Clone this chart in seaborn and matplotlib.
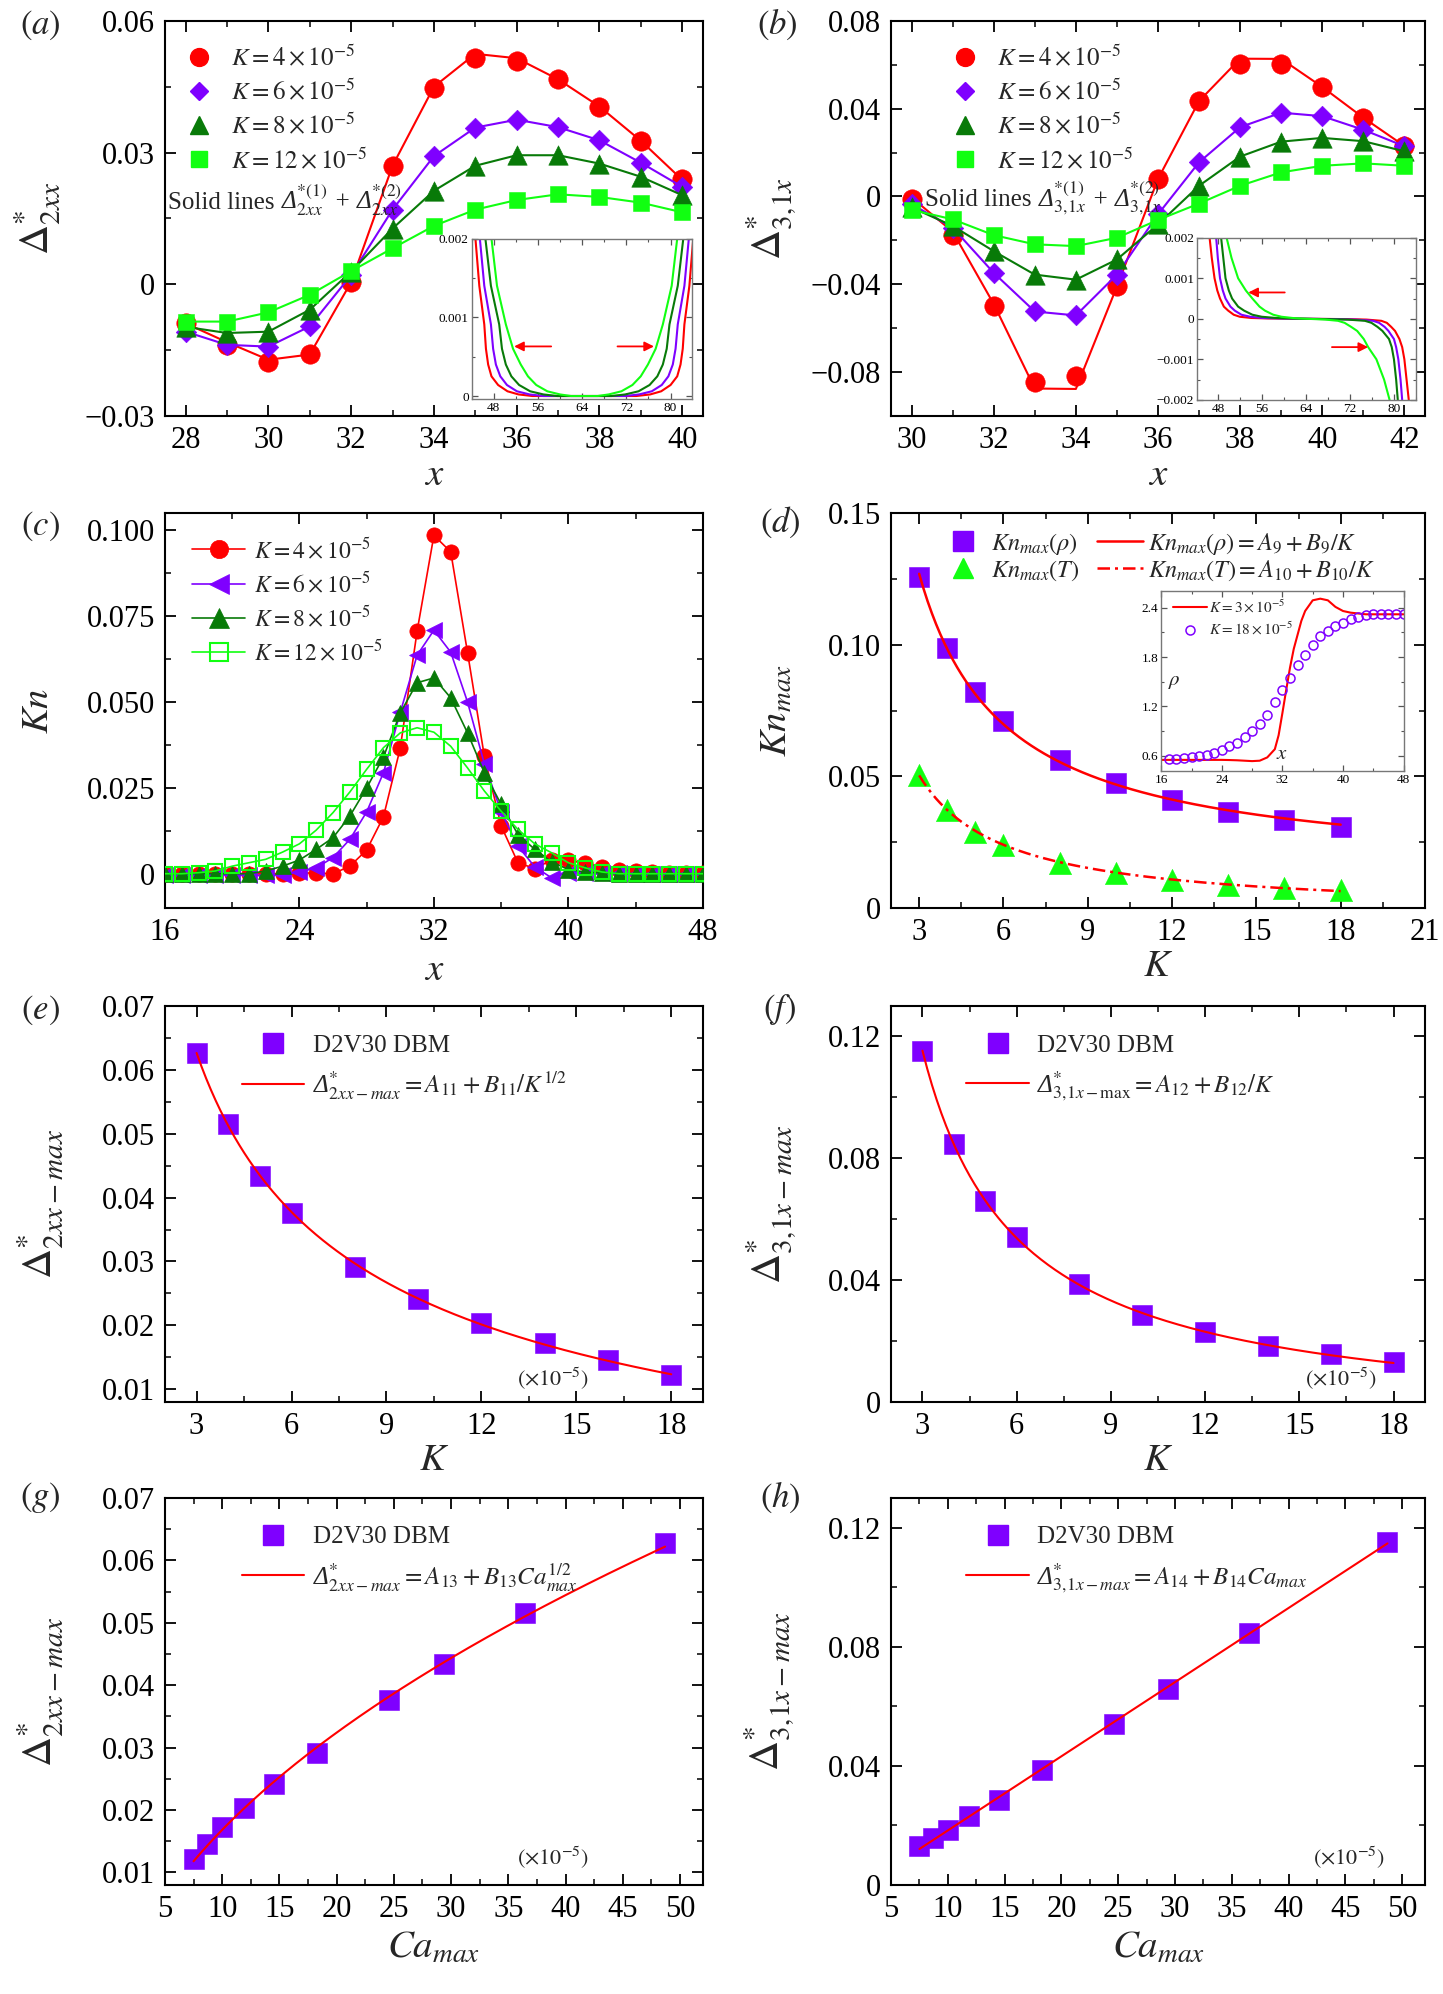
import numpy as np
import pandas as pd
import matplotlib
matplotlib.use("Agg")
import matplotlib.pyplot as plt
import seaborn as sns
from matplotlib.lines import Line2D
from matplotlib.ticker import MultipleLocator, FuncFormatter
from matplotlib.offsetbox import TextArea, HPacker, AnchoredOffsetbox

# ====================== DATA ======================
# (a) Delta*_2xx vs x
a_x = [28, 29, 30, 31, 32, 33, 34, 35, 36, 37, 38, 39, 40]
a_K4 = [-0.0088, -0.0138, -0.0176, -0.0158, 0.0006, 0.0269, 0.0448, 0.0515, 0.0508, 0.0467, 0.0405, 0.0327, 0.0241]
a_K4_line = [-0.0089, -0.0132, -0.0172, -0.0160, 0.0005, 0.0270, 0.0450, 0.0525, 0.0515, 0.0467, 0.0405, 0.0327, 0.0238]
a_K6 = [-0.0108, -0.0138, -0.0142, -0.0096, 0.0021, 0.0170, 0.0292, 0.0357, 0.0375, 0.0358, 0.0328, 0.0277, 0.0222]
a_K8 = [-0.0097, -0.0111, -0.0108, -0.0058, 0.0029, 0.0127, 0.0213, 0.0270, 0.0294, 0.0294, 0.0275, 0.0245, 0.0203]
a_K12 = [-0.0085, -0.0085, -0.0064, -0.0024, 0.0030, 0.0082, 0.0133, 0.0170, 0.0192, 0.0205, 0.0199, 0.0186, 0.0164]

# (a) inset curves
ai_y = [0.0020, 0.0014, 0.00091, 0.0006, 0.0004, 0.00025, 0.00014, 0.00006, 0.00002, 0.0,
        0.0, 0.00002, 0.00006, 0.00014, 0.00025, 0.0004, 0.0006, 0.00091, 0.0014, 0.0020]
ai_x_K4 = [44.7, 45.4, 46.3, 46.6, 47.0, 47.6, 48.8, 50.5, 52.5, 55.0,
           73.8, 76.3, 78.3, 80.0, 81.2, 81.8, 82.2, 82.5, 83.4, 84.1]
ai_x_K6 = [45.5, 46.3, 47.5, 47.9, 48.4, 49.2, 50.4, 52.2, 54.5, 57.0,
           71.8, 74.3, 76.6, 78.4, 79.6, 80.4, 80.9, 81.3, 82.5, 83.3]
ai_x_K8 = [46.5, 47.5, 49.0, 49.5, 50.2, 51.2, 52.6, 54.6, 57.0, 59.5,
           69.3, 71.8, 74.2, 76.2, 77.6, 78.6, 79.3, 79.8, 81.3, 82.3]
ai_x_K12 = [47.6, 48.6, 50.2, 51.5, 52.9, 54.2, 55.7, 57.7, 60.0, 62.0,
            66.8, 68.8, 71.1, 73.1, 74.6, 75.9, 77.3, 78.6, 80.2, 81.2]

# (b) Delta*_3,1x vs x
b_x = [30, 31, 32, 33, 34, 35, 36, 37, 38, 39, 40, 41, 42]
b_K4 = [-0.0012, -0.0176, -0.0500, -0.0844, -0.0817, -0.0409, 0.0082, 0.0435, 0.0602, 0.0606, 0.0499, 0.0359, 0.0232]
b_K4_line = [-0.0005, -0.0160, -0.0490, -0.0875, -0.0877, -0.0410, 0.0080, 0.0435, 0.0628, 0.0627, 0.0499, 0.0359, 0.0230]
b_K6 = [-0.0035, -0.0142, -0.0348, -0.0524, -0.0542, -0.0356, -0.0081, 0.0156, 0.0316, 0.0382, 0.0366, 0.0304, 0.0229]
b_K8 = [-0.0050, -0.0134, -0.0249, -0.0356, -0.0379, -0.0287, -0.0127, 0.0049, 0.0182, 0.0250, 0.0267, 0.0252, 0.0206]
b_K12 = [-0.0061, -0.0104, -0.0176, -0.0218, -0.0226, -0.0188, -0.0107, -0.0032, 0.0049, 0.0110, 0.0140, 0.0151, 0.0140]

# (b) inset curves
bi_y = [0.0020, 0.0015, 0.0010, 0.0007, 0.0005, 0.0003, 0.0002, 0.0001, 0.00005, 0.00002, 0.000008, 0.0,
        -0.000008, -0.00002, -0.00005, -0.0001, -0.0002, -0.0003, -0.0005, -0.0007, -0.0010, -0.0015, -0.0020]
bi_x_K4 = [46.4, 46.8, 47.3, 47.8, 48.3, 49.0, 49.8, 50.8, 51.9, 54.0, 57.0, 64.0,
           71.5, 75.0, 77.7, 78.7, 79.5, 80.2, 81.0, 81.5, 81.9, 82.3, 82.7]
bi_x_K6 = [47.6, 47.9, 48.3, 48.8, 49.3, 50.2, 51.0, 52.2, 53.8, 56.0, 59.0, 64.0,
           69.5, 73.0, 76.2, 77.3, 78.3, 79.0, 80.0, 80.4, 80.8, 81.2, 81.5]
bi_x_K8 = [48.5, 48.9, 49.3, 49.9, 50.5, 51.6, 52.7, 54.2, 55.9, 58.5, 61.0, 64.0,
           67.5, 71.5, 74.7, 75.9, 77.0, 77.9, 79.1, 79.6, 80.0, 80.4, 80.7]
bi_x_K12 = [49.5, 50.4, 51.6, 53.0, 54.2, 55.5, 56.5, 58.0, 59.5, 61.5, 62.8, 64.0,
            65.5, 67.5, 69.8, 71.0, 72.2, 73.3, 74.5, 75.3, 76.8, 78.2, 79.2]

# (c) Kn vs x
c_x = list(range(16, 49))
c_K4 = [0, 0, 0, 0, 0, 0, 0, 0, 0.0002, 0.0002, 0.0, 0.0022, 0.0069, 0.0166, 0.0366, 0.0706, 0.0985,
        0.0937, 0.0644, 0.0342, 0.0139, 0.0032, 0.0015, 0.0040, 0.0039, 0.0030, 0.0020, 0.0012, 0.0008,
        0.0005, 0.0003, 0.0002, 0.0001]
c_K6 = [-0.0003, -0.0003, -0.0003, -0.0003, -0.0003, -0.0005, -0.0005, -0.0003, 0.0005, 0.0017, 0.0047,
        0.0100, 0.0180, 0.0294, 0.0470, 0.0636, 0.0709, 0.0645, 0.0500, 0.0320, 0.0180, 0.0080, 0.0020,
        -0.0012, 0.0003, 0.0003, 0.0002, 0.0001, 0.0, 0.0, 0.0, 0.0, -0.0002]
c_K8 = [0, 0, 0, 0, 0, 0, 0.0008, 0.0022, 0.0040, 0.0071, 0.0105, 0.0168, 0.0250, 0.0340, 0.0468, 0.0556,
        0.0570, 0.0512, 0.0410, 0.0294, 0.0202, 0.0114, 0.0071, 0.0035, 0.0012, 0.0005, 0.0002,
        0, 0, 0, 0, 0, 0]
c_K12 = [0, 0, 0.0003, 0.0008, 0.0022, 0.0032, 0.0042, 0.0063, 0.0087, 0.0127, 0.0178, 0.0238, 0.0304,
         0.0367, 0.0410, 0.0425, 0.0412, 0.0371, 0.0308, 0.0241, 0.0182, 0.0129, 0.0087, 0.0061, 0.0032,
         0.0017, 0.0005, 0, 0, 0, 0, 0, 0]

# (d) Kn_max vs K
K_vals = [3, 4, 5, 6, 8, 10, 12, 14, 16, 18]
d_rho = [0.1256, 0.0987, 0.0820, 0.0709, 0.0563, 0.0475, 0.0411, 0.0365, 0.0333, 0.0308]
d_T = [0.0506, 0.0373, 0.0290, 0.0240, 0.0171, 0.0133, 0.0108, 0.0089, 0.0076, 0.0070]

# (d) inset: density profiles
di_x_K3 = [16, 17, 18, 19, 20, 21, 22, 23, 24, 25, 26, 27, 28, 29, 30, 31, 31.5, 32, 32.5, 33, 33.5,
           34, 34.5, 35, 36, 37, 38, 39, 40, 41, 42, 43, 44, 45, 46, 47, 48]
di_rho_K3 = [0.55, 0.55, 0.55, 0.55, 0.55, 0.55, 0.55, 0.55, 0.55, 0.548, 0.545, 0.54, 0.535, 0.54, 0.58,
             0.68, 0.85, 1.12, 1.40, 1.67, 1.90, 2.07, 2.24, 2.36, 2.49, 2.51, 2.49, 2.41, 2.36, 2.34,
             2.33, 2.32, 2.32, 2.32, 2.32, 2.32, 2.32]
di_x_K18 = list(range(17, 49))
di_rho_K18 = [0.559, 0.559, 0.571, 0.584, 0.592, 0.612, 0.632, 0.673, 0.714, 0.754, 0.827, 0.897, 0.99,
              1.10, 1.254, 1.396, 1.547, 1.70, 1.83, 1.945, 2.055, 2.116, 2.176, 2.217, 2.258, 2.286,
              2.307, 2.32, 2.32, 2.32, 2.32, 2.32]

# (e)-(h)
e_D2 = [0.0627, 0.0515, 0.0434, 0.0376, 0.0292, 0.0241, 0.0204, 0.0172, 0.0146, 0.0122]
f_D3 = [0.1153, 0.0847, 0.0659, 0.0541, 0.0386, 0.0286, 0.0230, 0.0184, 0.0156, 0.0131]
Ca_max = [48.7, 36.5, 29.4, 24.6, 18.3, 14.5, 11.9, 10.0, 8.7, 7.5]

k_labels = [r'$K=4\times10^{-5}$', r'$K=6\times10^{-5}$', r'$K=8\times10^{-5}$', r'$K=12\times10^{-5}$']

# ====================== STYLE ======================
sns.set_theme(style="ticks")
plt.rcParams['font.family'] = ['Liberation Serif', 'DejaVu Serif']
plt.rcParams['mathtext.fontset'] = 'stix'
plt.rcParams['axes.unicode_minus'] = True

RED = '#FF0000'
PURPLE = '#7F00FF'
DKGREEN = '#087A08'
LTGREEN = '#11FF11'
TICK = 22

fig = plt.figure(figsize=(14.43, 19.94), dpi=100)

LX, RX = 0.1143, 0.6175
LW_, RW_ = 0.3728, 0.370
rows = [(0.7914, 0.1981), (0.5446, 0.1981), (0.2969, 0.1986), (0.0547, 0.1941)]


def mk_ax(col, row):
    b, h = rows[row]
    if col == 0:
        return fig.add_axes([LX, b, LW_, h])
    return fig.add_axes([RX, b, RW_, h])


def uminus(s):
    return s.replace('-', '\u2212')


def fmt_factory(dec, zero='0'):
    def f(v, p):
        if abs(v) < 1e-12:
            return zero
        return uminus(f'{v:.{dec}f}')
    return f


def fmt_int(v, p):
    return uminus(f'{v:.0f}')


def style_axes(ax, xmaj, xmin, ymaj, ymin, yfmt):
    ax.xaxis.set_major_locator(MultipleLocator(xmaj))
    ax.xaxis.set_minor_locator(MultipleLocator(xmin))
    ax.yaxis.set_major_locator(MultipleLocator(ymaj))
    ax.yaxis.set_minor_locator(MultipleLocator(ymin))
    ax.yaxis.set_major_formatter(FuncFormatter(yfmt))
    ax.xaxis.set_major_formatter(FuncFormatter(fmt_int))
    ax.tick_params(which='both', direction='in', top=True, right=True, colors='black')
    ax.tick_params(which='major', length=8, width=1.3, labelsize=TICK, pad=7)
    ax.tick_params(which='minor', length=4.5, width=1.1)
    for s in ax.spines.values():
        s.set_linewidth(1.5)
        s.set_color('black')
    ax.grid(False)
    ax.set_facecolor('white')


def style_inset(ax, xmaj, xmin, ymaj, ymin, yfmt):
    ax.xaxis.set_major_locator(MultipleLocator(xmaj))
    ax.xaxis.set_minor_locator(MultipleLocator(xmin))
    ax.yaxis.set_major_locator(MultipleLocator(ymaj))
    ax.yaxis.set_minor_locator(MultipleLocator(ymin))
    ax.yaxis.set_major_formatter(FuncFormatter(yfmt))
    ax.xaxis.set_major_formatter(FuncFormatter(fmt_int))
    ax.tick_params(which='both', direction='in', top=True, right=True, color='#555555',
                   labelcolor='black')
    ax.tick_params(which='major', length=4, width=0.9, labelsize=9.5, pad=2)
    ax.tick_params(which='minor', length=2.2, width=0.8)
    for s in ax.spines.values():
        s.set_linewidth(1.0)
        s.set_color('#777777')
    ax.grid(False)
    ax.set_facecolor('white')
    ax.set_xlabel('')
    ax.set_ylabel('')


def scat(ax, x, y, marker, size, color, z=3, **kw):
    sns.scatterplot(x=x, y=y, marker=marker, s=size ** 2, color=color, edgecolor=color,
                    linewidth=0.4, ax=ax, legend=False, zorder=z, **kw)


def line(ax, x, y, color, lw=1.5, z=2, **kw):
    sns.lineplot(x=x, y=y, color=color, lw=lw, ax=ax, legend=False, errorbar=None,
                 sort=False, estimator=None, zorder=z, **kw)


def fit_curve(xd, yd, basis, xs):
    xd = np.asarray(xd, float)
    A = np.column_stack([np.ones(len(xd)), basis(xd)])
    coef, *_ = np.linalg.lstsq(A, np.asarray(yd, float), rcond=None)
    return coef[0] + coef[1] * basis(xs)


def set_labels(ax, xl, yl, ylx, xly, xfs=28, yfs=30):
    ax.set_xlabel(xl, fontsize=xfs)
    ax.set_ylabel(yl, fontsize=yfs)
    ax.yaxis.set_label_coords(ylx, 0.5)
    ax.xaxis.set_label_coords(0.5, xly)


def solid_lines_text(ax, x, y, sub):
    t1 = TextArea('Solid lines ', textprops=dict(fontsize=18))
    t2 = TextArea('\u0394' + r'$^{*(1)}_{%s}$' % sub + ' + ' + '\u0394' + r'$^{*(2)}_{%s}$' % sub,
                  textprops=dict(fontsize=18, style='italic'))
    box = HPacker(children=[t1, t2], align='baseline', pad=0, sep=0)
    anch = AnchoredOffsetbox(loc='center left', child=box, pad=0, borderpad=0, frameon=False,
                             bbox_to_anchor=(x, y), bbox_transform=ax.transAxes)
    anch.set_zorder(10)
    ax.add_artist(anch)


def fit_legend(ax, label, x0, y0):
    he = [Line2D([], [], ls='none', marker='s', ms=15, color=PURPLE), Line2D([], [], color=RED, lw=1.5)]
    leg = ax.legend(he, ['D2V30 DBM', label], loc='upper left', bbox_to_anchor=(x0, y0),
                    frameon=False, fontsize=18, handlelength=2.5, handletextpad=0.34,
                    labelspacing=0.5, borderaxespad=0, borderpad=0)
    leg.get_texts()[1].set_fontstyle('italic')
    return leg


MS_O, MS_D, MS_T, MS_S = 14, 10.5, 14, 12

# ====================== (a) ======================
ax = mk_ax(0, 0)
series_a = [(RED, 'o', MS_O), (PURPLE, 'D', MS_D), (DKGREEN, '^', MS_T), (LTGREEN, 's', MS_S)]
line(ax, a_x, a_K4_line, RED)
scat(ax, a_x, a_K4, 'o', MS_O, RED)
line(ax, a_x, a_K6, PURPLE, z=4)
scat(ax, a_x, a_K6, 'D', MS_D, PURPLE, z=5)
line(ax, a_x, a_K8, DKGREEN, z=6)
scat(ax, a_x, a_K8, '^', MS_T, DKGREEN, z=7)
line(ax, a_x, a_K12, LTGREEN, z=8)
scat(ax, a_x, a_K12, 's', MS_S, LTGREEN, z=9)
ax.set_xlim(27.5, 40.5)
ax.set_ylim(-0.03, 0.06)
style_axes(ax, 2, 1, 0.03, 0.015, fmt_factory(2))
set_labels(ax, r'$x$', r'$\Delta^{*}_{2xx}$', -0.19, -0.105)
hs = [Line2D([], [], ls='none', marker=m, ms=s * 0.92, color=c, mec=c) for (c, m, s) in series_a]
ax.legend(hs, k_labels, loc='upper left', bbox_to_anchor=(0.036, 0.94), frameon=False,
          fontsize=18, handlelength=1.2, handletextpad=0.68, labelspacing=0.34,
          borderaxespad=0, borderpad=0)
solid_lines_text(ax, 0.006, 0.546, '2xx')

ins = ax.inset_axes([0.570, 0.042, 0.409, 0.407])
line(ins, ai_x_K4, ai_y, RED, lw=1.5)
line(ins, ai_x_K6, ai_y, PURPLE, lw=1.5)
line(ins, ai_x_K8, ai_y, DKGREEN, lw=1.5)
line(ins, ai_x_K12, ai_y, LTGREEN, lw=1.5)
ins.set_xlim(44, 83.8)
ins.set_ylim(-0.0000425, 0.002)
style_inset(ins, 8, 4, 0.001, 0.0005, fmt_factory(3))
ap = dict(arrowstyle='-|>', color=RED, lw=1.3, mutation_scale=14, shrinkA=0, shrinkB=0)
ins.annotate('', xy=(51.7, 0.00063), xytext=(58.4, 0.00063), arrowprops=ap)
ins.annotate('', xy=(77.0, 0.00063), xytext=(70.4, 0.00063), arrowprops=ap)

# ====================== (b) ======================
ax = mk_ax(1, 0)
line(ax, b_x, b_K4_line, RED)
scat(ax, b_x, b_K4, 'o', MS_O, RED)
line(ax, b_x, b_K6, PURPLE, z=4)
scat(ax, b_x, b_K6, 'D', MS_D, PURPLE, z=5)
line(ax, b_x, b_K8, DKGREEN, z=6)
scat(ax, b_x, b_K8, '^', MS_T, DKGREEN, z=7)
line(ax, b_x, b_K12, LTGREEN, z=8)
scat(ax, b_x, b_K12, 's', MS_S, LTGREEN, z=9)
ax.set_xlim(29.5, 42.5)
ax.set_ylim(-0.1, 0.08)
style_axes(ax, 2, 1, 0.04, 0.02, fmt_factory(2))
set_labels(ax, r'$x$', r'$\Delta^{*}_{3,\!1x}$', -0.174, -0.105)
ax.legend(hs, k_labels, loc='upper left', bbox_to_anchor=(0.11, 0.94), frameon=False,
          fontsize=18, handlelength=1.2, handletextpad=0.68, labelspacing=0.34,
          borderaxespad=0, borderpad=0)
solid_lines_text(ax, 0.064, 0.552, r'3,\!1x')

ins = ax.inset_axes([0.573, 0.041, 0.410, 0.410])
line(ins, bi_x_K4, bi_y, RED, lw=1.5)
line(ins, bi_x_K6, bi_y, PURPLE, lw=1.5)
line(ins, bi_x_K8, bi_y, DKGREEN, lw=1.5)
line(ins, bi_x_K12, bi_y, LTGREEN, lw=1.5)
ins.set_xlim(44.1, 84)
ins.set_ylim(-0.002, 0.002)
style_inset(ins, 8, 4, 0.001, 0.0005, fmt_factory(3))
ins.annotate('', xy=(53.45, 0.00065), xytext=(60.1, 0.00065), arrowprops=ap)
ins.annotate('', xy=(75.3, -0.0007), xytext=(68.7, -0.0007), arrowprops=ap)

# ====================== (c) ======================
ax = mk_ax(0, 1)
c_series = [
    (c_K4, RED, dict(marker='o', markersize=11, markerfacecolor=RED, markeredgecolor=RED, markeredgewidth=0.5)),
    (c_K6, PURPLE, dict(marker='<', markersize=12, markerfacecolor=PURPLE, markeredgecolor=PURPLE, markeredgewidth=0.5)),
    (c_K8, DKGREEN, dict(marker='^', markersize=11.5, markerfacecolor=DKGREEN, markeredgecolor=DKGREEN, markeredgewidth=0.5)),
    (c_K12, LTGREEN, dict(marker='s', markersize=10.5, markerfacecolor='none', markeredgecolor=LTGREEN, markeredgewidth=1.5)),
]
for i, (yv, col, mk) in enumerate(c_series):
    line(ax, c_x, yv, col, lw=1.2, z=3 + i, **mk)
ax.set_xlim(16, 48)
ax.set_ylim(-0.01, 0.105)
style_axes(ax, 8, 4, 0.025, 0.0125, fmt_factory(3))
set_labels(ax, r'$x$', r'$Kn$', -0.20, -0.11, yfs=28)
hc = [Line2D([], [], color=col, lw=1.2, **{k: (v * 1.2 if k == 'markersize' else v) for k, v in mk.items()})
      for (_, col, mk) in c_series]
ax.legend(hc, k_labels, loc='upper left', bbox_to_anchor=(0.051, 0.94), frameon=False,
          fontsize=17, handlelength=2.25, handletextpad=0.34, labelspacing=0.34,
          borderaxespad=0, borderpad=0)

# ====================== (d) ======================
ax = mk_ax(1, 1)
Kg = np.linspace(min(K_vals), max(K_vals), 200)
fit_rho = fit_curve(K_vals, d_rho, lambda k: 1.0 / k, Kg)
fit_T = fit_curve(K_vals, d_T, lambda k: 1.0 / k, Kg)
line(ax, Kg, fit_rho, RED, lw=1.8, z=4)
line(ax, Kg, fit_T, RED, lw=1.8, z=4, dashes=(5, 2, 1.2, 2))
scat(ax, K_vals, d_rho, 's', 14.5, PURPLE, z=3)
scat(ax, K_vals, d_T, '^', 16, LTGREEN, z=3)
ax.set_xlim(2, 21)
ax.set_ylim(0, 0.15)
style_axes(ax, 3, 1.5, 0.05, 0.025, fmt_factory(2))
set_labels(ax, r'$K$', r'$Kn_{max}$', -0.178, -0.10, yfs=28)
hd = [Line2D([], [], ls='none', marker='s', ms=14, color=PURPLE),
      Line2D([], [], ls='none', marker='^', ms=15, color=LTGREEN),
      Line2D([], [], color=RED, lw=1.8),
      Line2D([], [], color=RED, lw=1.8, dashes=(5, 2, 1.2, 2))]
ld = [r'$Kn_{max}(\rho)$', r'$Kn_{max}(T)$',
      r'$Kn_{max}(\rho)=A_{9}+B_{9}/K$', r'$Kn_{max}(T)=A_{10}+B_{10}/K$']
ax.legend(hd, ld, ncol=2, loc='upper left', bbox_to_anchor=(0.091, 0.955), frameon=False,
          fontsize=17.5, handlelength=1.9, handletextpad=0.2, labelspacing=0.05,
          columnspacing=0.75, borderaxespad=0, borderpad=0)

ins = ax.inset_axes([0.506, 0.346, 0.454, 0.456])
line(ins, di_x_K3, di_rho_K3, RED, lw=1.5)
sns.lineplot(x=di_x_K18, y=di_rho_K18, ax=ins, color=PURPLE, lw=0, marker='o', markersize=6.5,
             markerfacecolor='none', markeredgecolor=PURPLE, markeredgewidth=1.1,
             legend=False, errorbar=None, estimator=None)
ins.set_xlim(16, 48)
ins.set_ylim(0.41, 2.6)
style_inset(ins, 8, 4, 0.6, 0.3, fmt_factory(1))
ins.text(0.053, 0.5, r'$\rho$', transform=ins.transAxes, fontsize=15, ha='center', va='center')
ins.text(0.5, 0.093, r'$x$', transform=ins.transAxes, fontsize=15, ha='center', va='center')
hi = [Line2D([], [], color=RED, lw=1.5),
      Line2D([], [], ls='none', marker='o', ms=6.5, mfc='none', mec=PURPLE, mew=1.1)]
ins.legend(hi, [r'$K=3\times10^{-5}$', r'$K=18\times10^{-5}$'], loc='upper left',
           bbox_to_anchor=(0.049, 0.96), frameon=False, fontsize=11, handlelength=2.2,
           handletextpad=0.15, labelspacing=0.35, borderaxespad=0, borderpad=0)

# ====================== (e) ======================
LEG_Y = 0.928
ax = mk_ax(0, 2)
fit_e = fit_curve(K_vals, e_D2, lambda k: 1.0 / np.sqrt(k), Kg)
line(ax, Kg, fit_e, RED, lw=1.5, z=4)
scat(ax, K_vals, e_D2, 's', 15, PURPLE, z=3)
ax.set_xlim(2, 19)
ax.set_ylim(0.008, 0.07)
style_axes(ax, 3, 1.5, 0.01, 0.005, fmt_factory(2, zero='0.00'))
set_labels(ax, r'$K$', r'$\Delta^{*}_{2xx-max}$', -0.184, -0.10)
fit_legend(ax, '\u0394' + r'$^{*}_{2xx-max}=A_{11}+B_{11}/K^{1/2}$', 0.143, LEG_Y)
ax.text(0.722, 0.059, r'$(\times10^{-5})$', transform=ax.transAxes, fontsize=16, ha='center', va='center')

# ====================== (f) ======================
ax = mk_ax(1, 2)
fit_f = fit_curve(K_vals, f_D3, lambda k: 1.0 / k, Kg)
line(ax, Kg, fit_f, RED, lw=1.5, z=4)
scat(ax, K_vals, f_D3, 's', 15, PURPLE, z=3)
ax.set_xlim(2, 19)
ax.set_ylim(0, 0.13)
style_axes(ax, 3, 1.5, 0.04, 0.02, fmt_factory(2))
set_labels(ax, r'$K$', r'$\Delta^{*}_{3,\!1x-max}$', -0.174, -0.10)
fit_legend(ax, '\u0394' + r'$^{*}_{3,\!1x-\mathrm{max}}=A_{12}+B_{12}/K$', 0.141, LEG_Y)
ax.text(0.842, 0.059, r'$(\times10^{-5})$', transform=ax.transAxes, fontsize=16, ha='center', va='center')

# ====================== (g) ======================
ax = mk_ax(0, 3)
Cg = np.linspace(min(Ca_max), max(Ca_max), 200)
fit_g = fit_curve(Ca_max, e_D2, np.sqrt, Cg)
line(ax, Cg, fit_g, RED, lw=1.5, z=4)
scat(ax, Ca_max, e_D2, 's', 15, PURPLE, z=3)
ax.set_xlim(5, 52)
ax.set_ylim(0.008, 0.07)
style_axes(ax, 5, 2.5, 0.01, 0.005, fmt_factory(2, zero='0.00'))
set_labels(ax, r'$Ca_{max}$', r'$\Delta^{*}_{2xx-max}$', -0.184, -0.115)
fit_legend(ax, '\u0394' + r'$^{*}_{2xx-max}=A_{13}+B_{13}Ca^{1/2}_{max}$', 0.143, LEG_Y)
ax.text(0.722, 0.069, r'$(\times10^{-5})$', transform=ax.transAxes, fontsize=16, ha='center', va='center')

# ====================== (h) ======================
ax = mk_ax(1, 3)
fit_h = fit_curve(Ca_max, f_D3, lambda c: c, Cg)
line(ax, Cg, fit_h, RED, lw=1.5, z=4)
scat(ax, Ca_max, f_D3, 's', 15, PURPLE, z=3)
ax.set_xlim(5, 52)
ax.set_ylim(0, 0.13)
style_axes(ax, 5, 2.5, 0.04, 0.02, fmt_factory(2))
set_labels(ax, r'$Ca_{max}$', r'$\Delta^{*}_{3,\!1x-max}$', -0.178, -0.115)
fit_legend(ax, '\u0394' + r'$^{*}_{3,\!1x-max}=A_{14}+B_{14}Ca_{max}$', 0.141, LEG_Y)
ax.text(0.857, 0.069, r'$(\times10^{-5})$', transform=ax.transAxes, fontsize=16, ha='center', va='center')

# ====================== panel labels ======================
plabels = [('a', 0.028, 0.9875), ('b', 0.539, 0.9875), ('c', 0.028, 0.736), ('d', 0.5405, 0.738),
           ('e', 0.028, 0.4935), ('f', 0.5405, 0.4935), ('g', 0.028, 0.249), ('h', 0.5405, 0.249)]
for lab, px, py in plabels:
    fig.text(px, py, r'$(%s)$' % lab, fontsize=25, ha='center', va='center')

fig.savefig('out.png', dpi=100, facecolor='white')
